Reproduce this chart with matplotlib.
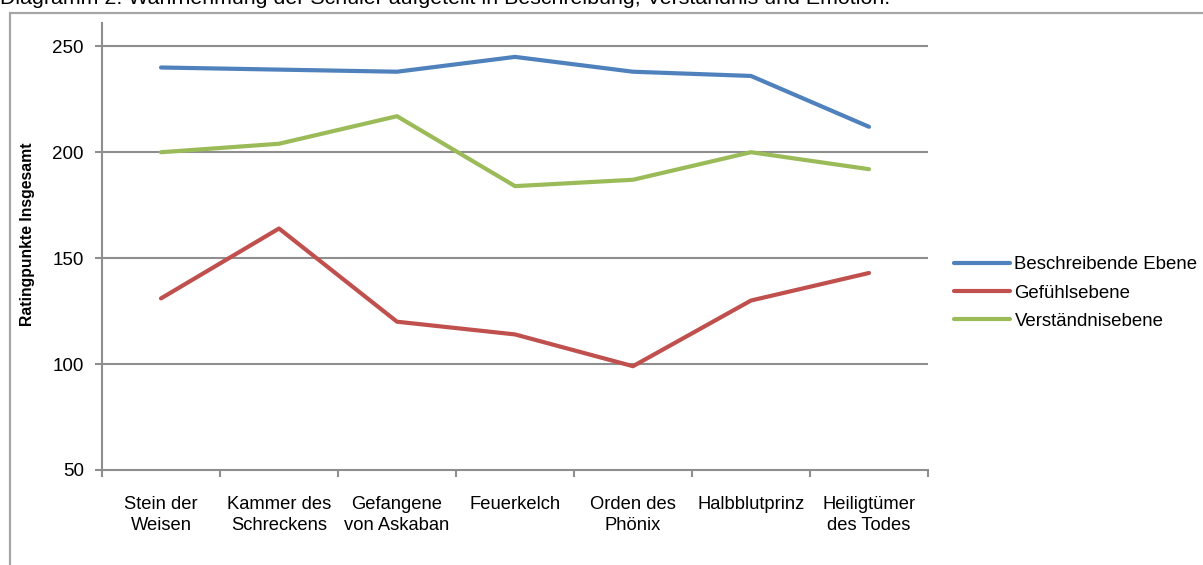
"""
Line chart: student ratings per Harry Potter book, split into three levels.
"""

import matplotlib
matplotlib.use("Agg")
import matplotlib.pyplot as plt
from matplotlib.patches import Rectangle

plt.rcParams['font.family'] = ['Liberation Sans', 'DejaVu Sans']

TITLE = "Diagramm 2: Wahrnehmung der Schüler aufgeteilt in Beschreibung, Verständnis und Emotion."
Y_LABEL = "Ratingpunkte Insgesamt"

books = ["Stein der\nWeisen", "Kammer des\nSchreckens", "Gefangene\nvon Askaban",
         "Feuerkelch", "Orden des\nPhönix", "Halbblutprinz", "Heiligtümer\ndes Todes"]

beschreibend = [240, 239, 238, 245, 238, 236, 212]
gefuehl = [131, 164, 120, 114, 99, 130, 143]
verstaendnis = [200, 204, 217, 184, 187, 200, 192]

series_names = ["Beschreibende Ebene", "Gefühlsebene", "Verständnisebene"]
series_colors = ["#4F81BD", "#C0504D", "#9BBB59"]

y_ticks = [50, 100, 150, 200, 250]

GRID = "#8E8E8E"
W, H = 1203, 565


def draw_chart() -> None:
    """Build the figure and save it to out.png."""
    fig = plt.figure(figsize=(W / 100, H / 100), dpi=100)

    # outer chart frame (cut off on the right and bottom)
    fig.patches.append(Rectangle((9.5 / W, -0.1), 1.2, (H - 12.5) / H + 0.1,
                                 transform=fig.transFigure, fill=False,
                                 edgecolor="#A6A6A6", linewidth=1.6))

    # caption, mostly clipped off at the top edge
    fig.text(-0.5 / W, 1 - 4 / H, TITLE, fontsize=15.4, va="baseline", ha="left")

    ax = fig.add_axes([102 / W, 95 / H, 826 / W, 447 / H])
    x = range(len(books))
    for values, name, color in zip([beschreibend, gefuehl, verstaendnis],
                                   series_names, series_colors):
        ax.plot(x, values, color=color, linewidth=3.0, label=name,
                solid_capstyle="round", solid_joinstyle="round", zorder=3)

    ax.set_xlim(-0.5, len(books) - 0.5)
    ax.set_ylim(50, 261)

    ax.set_yticks(y_ticks)
    ax.set_yticklabels([str(v) for v in y_ticks], fontsize=13.5)
    for v in y_ticks[1:]:
        ax.axhline(v, color=GRID, linewidth=1.5, zorder=1)

    ax.set_xticks(list(x))
    ax.set_xticklabels(books, fontsize=13.2, linespacing=1.25)
    ax.set_xticks([i - 0.5 for i in range(len(books) + 1)], minor=True)
    ax.tick_params(axis="x", which="major", length=0, pad=19)
    ax.tick_params(axis="x", which="minor", length=5, width=1.5, color=GRID)
    ax.tick_params(axis="y", length=5, width=1.5, color=GRID, pad=8)

    for side in ("top", "right"):
        ax.spines[side].set_visible(False)
    for side in ("left", "bottom"):
        ax.spines[side].set_color(GRID)
        ax.spines[side].set_linewidth(1.5)

    ax.set_ylabel(Y_LABEL, fontsize=11.3, fontweight="bold")
    ax.yaxis.set_label_coords(-0.081, 0.528)

    fig.legend(loc="center left", bbox_to_anchor=(954 / W, 1 - 293 / H),
               frameon=False, fontsize=13.4, handlelength=3.0,
               handletextpad=0.25, labelspacing=0.6, borderaxespad=0,
               borderpad=0)

    fig.savefig("out.png", dpi=100)


if __name__ == "__main__":
    draw_chart()
